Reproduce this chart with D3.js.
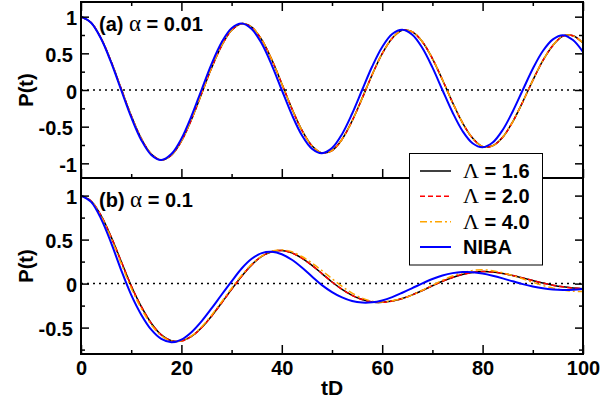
<!DOCTYPE html>
<html><head><meta charset="utf-8">
<script src="https://cdn.jsdelivr.net/npm/d3@7"></script>
<style>body{margin:0;background:#fff}svg{display:block}</style>
</head><body>
<svg id="chart" width="616" height="402"></svg>
<script>
// ---- data ----
const tD = [0,2,4,6,8,10,12,14,16,18,20,22,24,26,28,30,32,34,36,38,40,42,44,46,48,50,
            52,54,56,58,60,62,64,66,68,70,72,74,76,78,80,82,84,86,88,90,92,94,96,98,100];

// panel (a) alpha = 0.01
const topL16 = [1.000,0.920,0.705,0.389,0.019,-0.349,-0.661,-0.872,-0.955,-0.889,-0.696,-0.403,-0.054,0.299,0.603,0.814,0.905,0.857,0.685,0.414,0.086,-0.252,-0.548,-0.760,-0.858,-0.825,-0.673,-0.423,-0.114,0.208,0.496,0.707,0.815,0.793,0.659,0.429,0.139,-0.168,-0.447,-0.656,-0.772,-0.761,-0.644,-0.433,-0.161,0.131,0.401,0.608,0.735,0.740,0.640];
const topL20 = [1.000,0.920,0.705,0.389,0.019,-0.349,-0.661,-0.872,-0.955,-0.889,-0.696,-0.403,-0.054,0.299,0.603,0.814,0.905,0.857,0.685,0.414,0.086,-0.252,-0.548,-0.760,-0.858,-0.825,-0.673,-0.423,-0.114,0.208,0.496,0.707,0.815,0.793,0.659,0.429,0.139,-0.168,-0.447,-0.656,-0.772,-0.761,-0.644,-0.433,-0.161,0.131,0.401,0.608,0.735,0.740,0.640];
const topL40 = [1.000,0.920,0.705,0.389,0.019,-0.349,-0.661,-0.872,-0.955,-0.889,-0.696,-0.403,-0.054,0.299,0.603,0.814,0.905,0.857,0.685,0.414,0.086,-0.252,-0.548,-0.760,-0.858,-0.825,-0.673,-0.423,-0.114,0.208,0.496,0.707,0.815,0.793,0.659,0.429,0.139,-0.168,-0.447,-0.656,-0.772,-0.761,-0.644,-0.433,-0.161,0.131,0.401,0.608,0.735,0.740,0.640];
const topNIBA = [1.000,0.918,0.698,0.376,0.000,-0.371,-0.681,-0.885,-0.955,-0.874,-0.665,-0.357,0.000,0.353,0.648,0.842,0.906,0.832,0.633,0.340,0.000,-0.336,-0.617,-0.801,-0.862,-0.792,-0.602,-0.324,0.000,0.320,0.587,0.763,0.821,0.753,0.573,0.308,0.000,-0.304,-0.559,-0.726,-0.781,-0.717,-0.545,-0.293,0.000,0.290,0.532,0.691,0.748,0.682,0.519];

// panel (b) alpha = 0.1
const botL16 = [1,0.939,0.772,0.531,0.253,-0.025,-0.260,-0.450,-0.582,-0.649,-0.653,-0.601,-0.502,-0.370,-0.220,-0.066,0.083,0.213,0.309,0.363,0.376,0.349,0.289,0.207,0.114,0.018,-0.065,-0.133,-0.181,-0.208,-0.213,-0.199,-0.170,-0.128,-0.078,-0.024,0.027,0.070,0.104,0.126,0.137,0.132,0.116,0.092,0.064,0.035,0.007,-0.018,-0.037,-0.050,-0.058];
const botL20 = [1,0.939,0.772,0.531,0.253,-0.025,-0.260,-0.450,-0.582,-0.649,-0.653,-0.601,-0.502,-0.370,-0.220,-0.066,0.083,0.213,0.309,0.363,0.376,0.349,0.289,0.207,0.114,0.018,-0.065,-0.133,-0.181,-0.208,-0.213,-0.199,-0.170,-0.128,-0.078,-0.024,0.027,0.070,0.104,0.126,0.137,0.132,0.116,0.092,0.064,0.035,0.007,-0.018,-0.037,-0.050,-0.058];
const botL40 = [1,0.936,0.763,0.515,0.230,-0.050,-0.282,-0.467,-0.592,-0.653,-0.651,-0.595,-0.494,-0.360,-0.208,-0.052,0.094,0.219,0.312,0.368,0.384,0.361,0.308,0.234,0.147,0.056,-0.031,-0.108,-0.165,-0.199,-0.208,-0.195,-0.170,-0.128,-0.076,-0.018,0.038,0.086,0.124,0.149,0.157,0.146,0.123,0.091,0.054,0.015,-0.021,-0.051,-0.074,-0.087,-0.091];
const botNIBA = [1,0.929,0.736,0.463,0.154,-0.128,-0.353,-0.524,-0.629,-0.666,-0.636,-0.552,-0.429,-0.282,-0.127,0.025,0.172,0.282,0.346,0.361,0.334,0.271,0.183,0.081,-0.017,-0.096,-0.157,-0.198,-0.216,-0.213,-0.191,-0.153,-0.104,-0.051,0.003,0.052,0.092,0.119,0.131,0.130,0.114,0.089,0.059,0.026,-0.006,-0.033,-0.054,-0.067,-0.072,-0.070,-0.060];

const seriesLabels = [["Λ"," = 1.6"],["Λ"," = 2.0"],["Λ"," = 4.0"],["","NIBA"]];
const xTickValues = [0,20,40,60,80,100];
const topYTickValues = [1,0.5,0,-0.5,-1];
const botYTickValues = [1,0.5,0,-0.5];
const panelTags = ["(a) ","(b) "];
const panelAlphas = [" = 0.01"," = 0.1"];
const xTitle = "tD";
const yTitle = "P(t)";

// ---- styles ----
const styles = [
  {color:"#000000", dash:null,      width:1.5},
  {color:"#ff0000", dash:"5,3",     width:1.5},
  {color:"#ffa500", dash:"7,3,2,3", width:1.5},
  {color:"#0000ff", dash:null,      width:2}
];
const SANS = "'Liberation Sans', Arial, sans-serif";
const SERIF = "'Liberation Serif', 'Times New Roman', serif";

const svg = d3.select("#chart");
const x = d3.scaleLinear().domain([0,100]).range([81,583]);
const yTop = d3.scaleLinear().domain([-1.2,1.2]).range([178,2]);
const yBot = d3.scaleLinear().domain([-0.8,1.2]).range([354,178]);

const panels = [
  {y:yTop, series:[topL16,topL20,topL40,topNIBA], ticks:topYTickValues, minor:[1,0.75,0.5,0.25,0,-0.25,-0.5,-0.75,-1], tag:0},
  {y:yBot, series:[botL16,botL20,botL40,botNIBA], ticks:botYTickValues, minor:[1,0.75,0.5,0.25,0,-0.25,-0.5,-0.75], tag:1}
];
const allX = [0,10,20,30,40,50,60,70,80,90,100];

panels.forEach((p,i)=>{
  const y = p.y;
  const [yb, yt] = y.range();
  const id = "clip"+i;
  svg.append("clipPath").attr("id",id).append("rect")
     .attr("x",x(0)).attr("y",yt).attr("width",x(100)-x(0)).attr("height",yb-yt);

  // dotted zero line
  svg.append("line").attr("x1",x(0)).attr("x2",x(100)).attr("y1",y(0)).attr("y2",y(0))
     .attr("stroke","#000").attr("stroke-width",1.5).attr("stroke-dasharray","2,4");

  const g = svg.append("g").attr("clip-path",`url(#${id})`);
  p.series.forEach((vals,k)=>{
    const st = styles[k];
    const line = d3.line().x((d,j)=>x(tD[j])).y(d=>y(d)).curve(d3.curveCatmullRom.alpha(0.5));
    g.append("path").datum(vals).attr("d",line).attr("fill","none")
      .attr("stroke",st.color).attr("stroke-width",st.width)
      .attr("stroke-dasharray",st.dash).attr("stroke-linejoin","round");
  });

  // axes: ticks inside
  const isMajor = v => p.ticks.includes(v);
  const left = d3.axisLeft(y).tickValues(p.minor).tickFormat("").tickSizeOuter(0);
  const gl = svg.append("g").attr("transform",`translate(${x(0)},0)`).call(left);
  gl.selectAll(".tick line").attr("x2",d=>isMajor(d)?8:4).attr("stroke-width",1.5);
  gl.select(".domain").remove();
  const right = d3.axisRight(y).tickValues(p.minor).tickFormat("").tickSizeOuter(0);
  const gr = svg.append("g").attr("transform",`translate(${x(100)},0)`).call(right);
  gr.selectAll(".tick line").attr("x2",d=>isMajor(d)?-8:-4).attr("stroke-width",1.5);
  gr.select(".domain").remove();

  // y tick labels
  const lab = d3.axisLeft(y).tickValues(p.ticks).tickSize(0).tickPadding(0)
     .tickFormat(d=>String(d));
  const glab = svg.append("g").attr("transform",`translate(${x(0)},0)`).call(lab);
  glab.select(".domain").remove();
  glab.selectAll("text").attr("font-family",SANS).attr("font-weight","bold")
     .attr("font-size",20).attr("fill","#000")
     .attr("x",d=>Number.isInteger(d)?-4:-8).attr("dy","0.4em");

  // x ticks
  if(i===0){
    const tAx = d3.axisTop(x).tickValues(allX).tickFormat("").tickSizeOuter(0);
    const gt = svg.append("g").attr("transform",`translate(0,${yt})`).call(tAx);
    gt.selectAll(".tick line").attr("y2",d=>xTickValues.includes(d)?9:4).attr("stroke-width",1.5);
    gt.select(".domain").remove();
  }
  const bAx = d3.axisBottom(x).tickValues(allX).tickFormat("").tickSizeOuter(0);
  const gb = svg.append("g").attr("transform",`translate(0,${yb})`).call(bAx);
  gb.selectAll(".tick line").attr("y2",d=>xTickValues.includes(d)?-9:-4).attr("stroke-width",1.5);
  gb.select(".domain").remove();

  // frame
  svg.append("rect").attr("x",x(0)).attr("y",yt).attr("width",x(100)-x(0)).attr("height",yb-yt)
     .attr("fill","none").attr("stroke","#000").attr("stroke-width",2);

  // panel label
  const pt = svg.append("text").attr("x",x(0)+18).attr("y",yt+28.5)
     .attr("font-family",SANS).attr("font-weight","bold").attr("font-size",20);
  pt.append("tspan").text(panelTags[p.tag]);
  pt.append("tspan").attr("font-family",SERIF).attr("font-weight","normal").attr("font-size",23).text("α");
  pt.append("tspan").text(panelAlphas[p.tag]);

  // y title
  svg.append("text").attr("transform",`translate(33,${(yt+yb)/2}) rotate(-90)`)
     .attr("text-anchor","middle").attr("font-family",SANS).attr("font-weight","bold")
     .attr("font-size",20).text(yTitle);
});

// x tick labels
const xl = d3.axisBottom(x).tickValues(xTickValues).tickSize(0).tickPadding(0).tickFormat(d3.format("d"));
const gxl = svg.append("g").attr("transform",`translate(0,354)`).call(xl);
gxl.select(".domain").remove();
gxl.selectAll("text").attr("font-family",SANS).attr("font-weight","bold").attr("font-size",20)
   .attr("fill","#000").attr("y",21).attr("dy",0);

svg.append("text").attr("x",x(50)).attr("y",395).attr("text-anchor","middle")
   .attr("font-family",SANS).attr("font-weight","bold").attr("font-size",21).text(xTitle);

// legend
const lg = svg.append("g");
lg.append("rect").attr("x",409.5).attr("y",153.5).attr("width",133).attr("height",111.5)
  .attr("fill","#fff").attr("stroke","#000").attr("stroke-width",1);
const rowY = d3.scaleLinear().domain([0,3]).range([171,247]);
seriesLabels.forEach((lab,k)=>{
  const st = styles[k];
  lg.append("line").attr("x1",420).attr("x2",451).attr("y1",rowY(k)).attr("y2",rowY(k))
    .attr("stroke",st.color).attr("stroke-width",st.width).attr("stroke-dasharray",st.dash);
  const t = lg.append("text").attr("x",463).attr("y",rowY(k)+7)
    .attr("font-family",SANS).attr("font-weight","bold").attr("font-size",20);
  if(lab[0]) t.append("tspan").attr("font-family",SERIF).attr("font-weight","normal").attr("font-size",22).text(lab[0]);
  t.append("tspan").text(lab[1]);
});
</script>
</body></html>
